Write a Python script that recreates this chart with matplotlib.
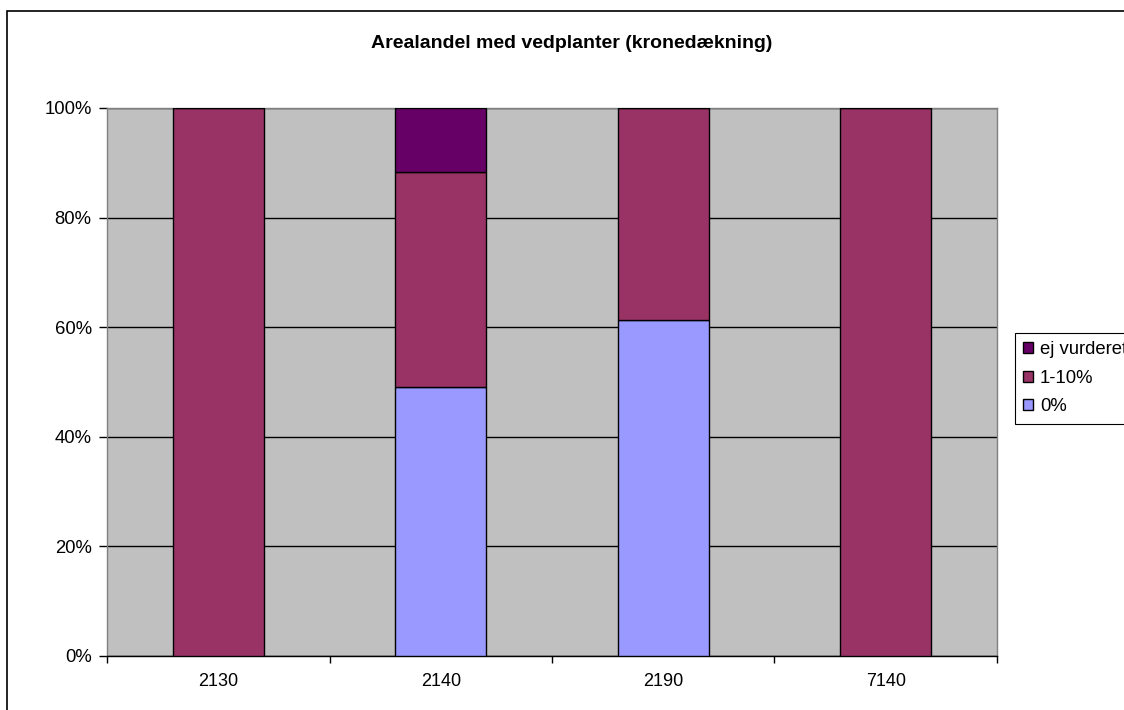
import matplotlib
matplotlib.use("Agg")
import matplotlib.pyplot as plt
from matplotlib.patches import Rectangle
from matplotlib.ticker import PercentFormatter
import numpy as np

plt.rcParams['font.family'] = ['Liberation Sans', 'DejaVu Sans']

categories = ["2130", "2140", "2190", "7140"]
share_0 = [0.0, 49.1, 61.3, 0.0]
share_1_10 = [100.0, 39.2, 38.7, 100.0]
share_ej = [0.0, 11.7, 0.0, 0.0]

series = [("0%", share_0, "#9999ff"),
          ("1-10%", share_1_10, "#993366"),
          ("ej vurderet", share_ej, "#660066")]

W, H = 1124, 710
fig = plt.figure(figsize=(W / 100, H / 100), dpi=100)

# outer chart border
fig.patches.append(Rectangle((7 / W, -0.1), 1.2, 1 - 11 / H + 0.1,
                             transform=fig.transFigure, fill=False,
                             edgecolor="black", linewidth=1.2))

ax = fig.add_axes([107 / W, 1 - 656 / H, (997 - 107) / W, (656 - 108) / H])
ax.set_facecolor("#c0c0c0")
for s in ax.spines.values():
    s.set_color("#808080")
    s.set_linewidth(1.0)
ax.spines['bottom'].set_color("black")

x = np.arange(len(categories))
bottom = np.zeros(len(categories))
handles = []
for name, vals, col in series:
    vals = np.array(vals)
    b = ax.bar(x, vals, width=0.407, bottom=bottom, color=col,
               edgecolor="black", linewidth=1.0, label=name, zorder=3)
    handles.append(b)
    bottom += vals

ax.set_xlim(-0.5, len(categories) - 0.5)
ax.set_ylim(0, 100)
ax.set_yticks(np.arange(0, 101, 20))
ax.yaxis.set_major_formatter(PercentFormatter(decimals=0))
ax.yaxis.grid(True, color="black", linewidth=1.0, zorder=1)
ax.set_axisbelow(True)

ax.set_xticks(x)
ax.set_xticklabels(categories)
ax.set_xticks(np.arange(-0.5, len(categories), 1), minor=True)
ax.tick_params(axis='x', which='major', length=0, pad=12, labelsize=13)
ax.tick_params(axis='x', which='minor', length=5, width=1, color="black", direction='out')
ax.tick_params(axis='y', length=6, width=1, color="black", pad=5, labelsize=13.3)

fig.text(572 / W, 1 - 43 / H, "Arealandel med vedplanter (kronedækning)",
         ha="center", va="center", fontsize=14, fontweight="bold")

leg = fig.legend(handles[::-1], [s[0] for s in series][::-1],
                 loc="upper left", bbox_to_anchor=(1015 / W, 1 - 333 / H),
                 frameon=True, fancybox=False, framealpha=1, edgecolor="black",
                 fontsize=13.3, handlelength=0.55, handleheight=0.55,
                 handletextpad=0.35, labelspacing=0.62, borderpad=0.45,
                 borderaxespad=0)
leg.get_frame().set_linewidth(0.8)

fig.savefig("out.png", dpi=100)
